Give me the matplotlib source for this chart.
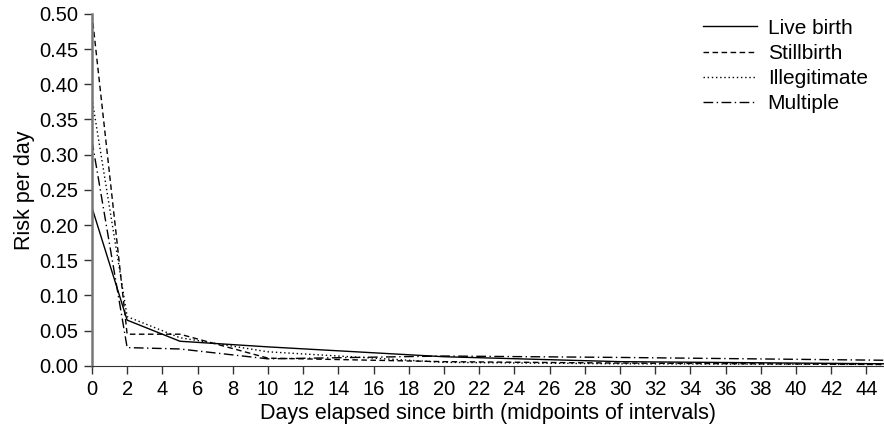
import matplotlib
matplotlib.use('Agg')
import matplotlib.pyplot as plt

plt.rcParams['font.family'] = ['Liberation Sans', 'DejaVu Sans']

# midpoints of the intervals (days) and risk per day
days = [0, 2, 5, 10, 20, 30, 45]
live_birth = [0.225, 0.065, 0.035, 0.027, 0.013, 0.006, 0.003]
stillbirth = [0.500, 0.045, 0.045, 0.011, 0.006, 0.004, 0.002]
illegitimate = [0.380, 0.070, 0.040, 0.020, 0.005, 0.003, 0.002]
multiple = [0.320, 0.026, 0.024, 0.010, 0.014, 0.012, 0.008]

y_ticks = [0.00, 0.05, 0.10, 0.15, 0.20, 0.25, 0.30, 0.35, 0.40, 0.45, 0.50]
x_ticks = list(range(0, 45, 2))

fig = plt.figure(figsize=(8.84, 4.33), dpi=100)
ax = fig.add_axes([0.104, 0.155, 0.896, 0.813])

ax.plot(days, live_birth, color='black', lw=1.0, ls='-', label='Live birth')
ax.plot(days, stillbirth, color='black', lw=1.0, ls=(0, (4, 2.5)), label='Stillbirth')
ax.plot(days, illegitimate, color='black', lw=1.0, ls=(0, (1, 2)), label='Illegitimate')
ax.plot(days, multiple, color='black', lw=1.0, ls=(0, (7, 2.5, 1, 2.5)), label='Multiple')

ax.set_xlim(0, 45)
ax.set_ylim(0, 0.50)
ax.set_xticks(x_ticks)
ax.set_yticks(y_ticks)
ax.set_yticklabels(['%.2f' % v for v in y_ticks])
ax.tick_params(labelsize=14.5, length=6, width=1, color='#333333', pad=4)

for s in ['top', 'right']:
    ax.spines[s].set_visible(False)
ax.spines['left'].set_color('#777777')
ax.spines['left'].set_linewidth(1.8)
ax.spines['bottom'].set_color('#333333')

ax.set_xlabel('Days elapsed since birth (midpoints of intervals)', fontsize=15.5, labelpad=3)
ax.set_ylabel('Risk per day', fontsize=15.5, labelpad=3)

ax.legend(loc='upper right', frameon=False, fontsize=15, handlelength=2.6,
          handletextpad=0.5, labelspacing=0.3, borderaxespad=0,
          bbox_to_anchor=(0.99, 1.01))

fig.savefig('out.png', dpi=100)
plt.close()
